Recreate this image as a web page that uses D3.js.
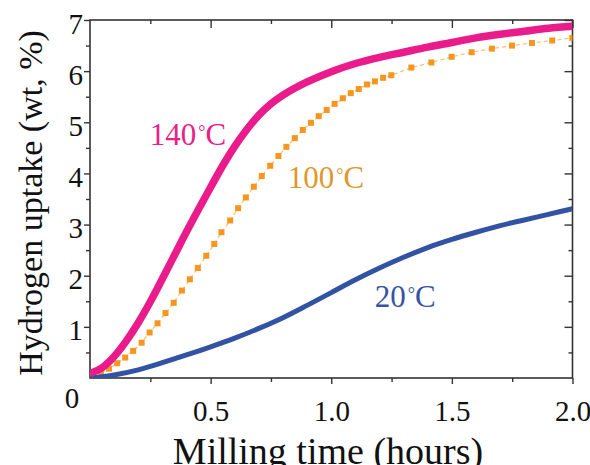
<!DOCTYPE html>
<html lang="en">
<head>
    <meta charset="UTF-8">
    <script type="text/javascript" src="https://cdn.jsdelivr.net/npm/d3@7/dist/d3.min.js"></script>
    <title>Hydrogen uptake</title>
    <style>
        body { margin: 0; background: #fff; }
        text { font-family: "Liberation Serif", "Times New Roman", serif; }
    </style>
</head>
<body>
<script type="text/javascript">
    // milling time (hours) and uptake (wt %)
    var time140 = [0, 0.05, 0.1, 0.15, 0.2, 0.25, 0.3, 0.35, 0.4, 0.45, 0.5, 0.55, 0.6, 0.65, 0.7, 0.75, 0.8, 0.85, 0.9,
                   1.0, 1.1, 1.2, 1.3, 1.4, 1.5, 1.6, 1.7, 1.8, 1.9, 2.0];
    var uptake140 = [0.09, 0.20, 0.42, 0.72, 1.08, 1.49, 1.94, 2.40, 2.86, 3.30, 3.73, 4.15, 4.53, 4.86, 5.14, 5.36, 5.53, 5.67, 5.79,
                     5.99, 6.15, 6.27, 6.37, 6.47, 6.56, 6.65, 6.72, 6.78, 6.84, 6.88];

    var time20 = [0, 0.1, 0.2, 0.3, 0.4, 0.5, 0.6, 0.7, 0.8, 0.9, 1.0, 1.1, 1.2, 1.3, 1.4, 1.5, 1.6, 1.7, 1.8, 1.9, 2.0];
    var uptake20 = [0, 0.06, 0.16, 0.30, 0.45, 0.61, 0.78, 0.97, 1.18, 1.42, 1.67, 1.92, 2.15, 2.36, 2.55, 2.71, 2.85, 2.98, 3.09, 3.20, 3.31];

    // 100 C is drawn as squares
    var time100 = [0.013, 0.046, 0.079, 0.113, 0.146, 0.179, 0.214, 0.247, 0.280, 0.313, 0.347, 0.381, 0.414, 0.447, 0.482, 0.515,
                   0.545, 0.581, 0.614, 0.646, 0.679, 0.712, 0.747, 0.781, 0.814, 0.849, 0.882, 0.916, 0.948, 0.981, 1.014,
                   1.048, 1.081, 1.114, 1.148, 1.181, 1.215, 1.249, 1.332, 1.415, 1.499, 1.582, 1.666, 1.749, 1.832, 1.916, 1.999];
    var uptake100 = [0.05, 0.10, 0.18, 0.29, 0.40, 0.53, 0.69, 0.89, 1.07, 1.27, 1.47, 1.71, 1.93, 2.15, 2.39, 2.62,
                     2.85, 3.08, 3.32, 3.53, 3.74, 3.95, 4.15, 4.34, 4.52, 4.69, 4.85, 4.99, 5.12, 5.24, 5.36,
                     5.47, 5.57, 5.65, 5.74, 5.80, 5.87, 5.92, 6.07, 6.17, 6.28, 6.37, 6.44, 6.50, 6.55, 6.60, 6.65];

    var xMajor = [0.5, 1.0, 1.5, 2.0];
    var xMinor = [0.25, 0.75, 1.25, 1.75];
    var yMajor = [1, 2, 3, 4, 5, 6, 7];
    var yMinor = [0.5, 1.5, 2.5, 3.5, 4.5, 5.5, 6.5];

    var labels = [
        {name: "140", t: 0.248, v: 4.56, color: "#e8218a"},
        {name: "100", t: 0.82, v: 3.72, color: "#e0972c"},
        {name: "20", t: 1.18, v: 1.39, color: "#3553a3"}
    ];

    var W = 590, H = 465;
    var pLeft = 90, pRight = 572.5, pTop = 20, pBottom = 378;

    var x = d3.scaleLinear().domain([0, 2]).range([pLeft, pRight]);
    var y = d3.scaleLinear().domain([0, 7]).range([pBottom, pTop]);

    var svg = d3.select("body").append("svg")
            .attr("width", W)
            .attr("height", H);

    svg.append("defs").append("clipPath").attr("id", "plot")
            .append("rect")
            .attr("x", pLeft).attr("y", pTop)
            .attr("width", pRight - pLeft).attr("height", pBottom - pTop);

    var axisColor = "#333";
    var tickFont = 29;

    function styleAxis(g) {
        g.select(".domain").remove();
        g.selectAll("line").attr("stroke", axisColor).attr("stroke-width", 1.4);
        g.selectAll("text")
                .attr("fill", "#111")
                .style("font-family", "'Liberation Serif', 'Times New Roman', serif")
                .style("font-size", tickFont + "px");
    }

    // bottom: ticks outside, labels
    svg.append("g").attr("transform", "translate(0," + pBottom + ")")
            .call(d3.axisBottom(x).tickValues(xMajor).tickFormat(d3.format(".1f")).tickSize(6).tickPadding(16))
            .call(styleAxis);
    svg.append("g").attr("transform", "translate(0," + pBottom + ")")
            .call(d3.axisBottom(x).tickValues(xMinor).tickFormat("").tickSize(4))
            .call(styleAxis);

    // left: ticks outside, labels
    svg.append("g").attr("transform", "translate(" + pLeft + ",0)")
            .call(d3.axisLeft(y).tickValues(yMajor).tickFormat(d3.format("d")).tickSize(6).tickPadding(1))
            .call(styleAxis)
            .selectAll("text").attr("dy", "0.45em");
    svg.append("g").attr("transform", "translate(" + pLeft + ",0)")
            .call(d3.axisLeft(y).tickValues(yMinor).tickFormat("").tickSize(4))
            .call(styleAxis);

    // top and right: ticks inside
    svg.append("g").attr("transform", "translate(0," + pTop + ")")
            .call(d3.axisTop(x).tickValues(xMajor).tickFormat("").tickSize(-8).tickSizeOuter(0))
            .call(styleAxis);
    svg.append("g").attr("transform", "translate(0," + pTop + ")")
            .call(d3.axisTop(x).tickValues(xMinor).tickFormat("").tickSize(-4).tickSizeOuter(0))
            .call(styleAxis);
    svg.append("g").attr("transform", "translate(" + pRight + ",0)")
            .call(d3.axisRight(y).tickValues(yMajor).tickFormat("").tickSize(-8).tickSizeOuter(0))
            .call(styleAxis);
    svg.append("g").attr("transform", "translate(" + pRight + ",0)")
            .call(d3.axisRight(y).tickValues(yMinor).tickFormat("").tickSize(-4).tickSizeOuter(0))
            .call(styleAxis);

    // shared origin label
    svg.append("text")
            .attr("x", x(0) - 18).attr("y", y(0) + 30)
            .attr("text-anchor", "middle")
            .attr("fill", "#111")
            .style("font-size", tickFont + "px")
            .text("0");

    // frame
    svg.append("rect")
            .attr("x", pLeft).attr("y", pTop)
            .attr("width", pRight - pLeft).attr("height", pBottom - pTop)
            .attr("fill", "none")
            .attr("stroke", axisColor)
            .attr("stroke-width", 1.6);

    var plot = svg.append("g").attr("clip-path", "url(#plot)");

    var line = d3.line()
            .x(function(d){ return x(d[0]); })
            .y(function(d){ return y(d[1]); })
            .curve(d3.curveMonotoneX);

    var pts100 = d3.zip(time100, uptake100);

    plot.append("path")
            .datum(pts100)
            .attr("d", d3.line().x(function(d){ return x(d[0]); }).y(function(d){ return y(d[1]); }))
            .attr("fill", "none")
            .attr("stroke", "#f9c27e")
            .attr("stroke-width", 1.3)
            .attr("stroke-dasharray", "4,3");

    plot.selectAll("rect.sq")
            .data(pts100)
            .enter()
            .append("rect")
            .attr("class", "sq")
            .attr("x", function(d){ return x(d[0]) - 3; })
            .attr("y", function(d){ return y(d[1]) - 3; })
            .attr("width", 6)
            .attr("height", 6)
            .attr("fill", "#f7961f");

    plot.append("path")
            .datum(d3.zip(time20, uptake20))
            .attr("d", line)
            .attr("fill", "none")
            .attr("stroke", "#3252a3")
            .attr("stroke-width", 5);

    plot.append("path")
            .datum(d3.zip(time140, uptake140))
            .attr("d", line)
            .attr("fill", "none")
            .attr("stroke", "#ea1c8b")
            .attr("stroke-width", 7.5);

    // curve labels
    var lab = svg.selectAll("text.lab")
            .data(labels)
            .enter()
            .append("text")
            .attr("class", "lab")
            .attr("x", function(d){ return x(d.t); })
            .attr("y", function(d){ return y(d.v); })
            .attr("fill", function(d){ return d.color; })
            .style("font-size", "31px");
    lab.append("tspan").text(function(d){ return d.name; });
    lab.append("tspan").attr("font-size", "18px").attr("dy", "-0.4em").attr("dx", "2").text("°");
    lab.append("tspan").attr("dy", "0.23em").text("C");

    // axis titles
    svg.append("text")
            .attr("transform", "translate(42," + ((pTop + pBottom) / 2 + 4) + ") rotate(-90)")
            .attr("text-anchor", "middle")
            .attr("fill", "#111")
            .style("font-size", "34px")
            .text("Hydrogen uptake (wt, %)");

    svg.append("text")
            .attr("x", 328)
            .attr("y", 464)
            .attr("text-anchor", "middle")
            .attr("fill", "#111")
            .style("font-size", "38px")
            .text("Milling time (hours)");
</script>
</body>
</html>
